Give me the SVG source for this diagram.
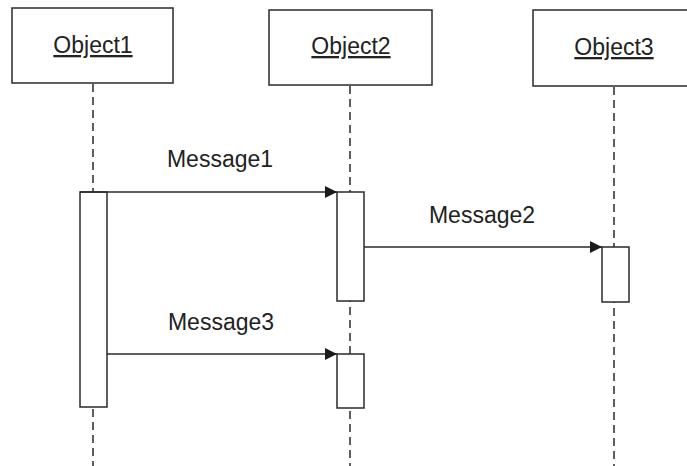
<svg xmlns="http://www.w3.org/2000/svg" width="687" height="466" viewBox="0 0 687 466">
<style>
.box{fill:#fff;stroke:#2a2a2a;stroke-width:1.5}
.life{stroke:#2a2a2a;stroke-width:1.5;stroke-dasharray:8 5;fill:none}
.act{fill:#fff;stroke:#2a2a2a;stroke-width:1.5}
.msg{stroke:#2a2a2a;stroke-width:1.5;fill:none;marker-end:url(#arr)}
.t{font-family:"Liberation Sans",Arial,sans-serif;font-size:23px;fill:#222;text-anchor:middle}
.u{text-decoration:underline}
</style>
<defs>
<marker id="arr" viewBox="0 0 12 12" refX="12" refY="6" markerWidth="12" markerHeight="12" markerUnits="userSpaceOnUse" orient="auto">
<path d="M0,0 L12,6 L0,12 z" fill="#1a1a1a"/>
</marker>
</defs>
<rect width="687" height="466" fill="#fff"/>
<g id="lifelines">
<line class="life" x1="93" y1="84" x2="93" y2="466"/>
<line class="life" x1="350" y1="86" x2="350" y2="466"/>
<line class="life" x1="614" y1="87" x2="614" y2="466"/>
</g>
<g id="object1">
<rect class="box" x="12" y="8" width="161" height="75"/>
<text class="t u" x="93" y="53">Object1</text>
</g>
<g id="object2">
<rect class="box" x="269" y="10" width="163" height="75"/>
<text class="t u" x="351" y="54">Object2</text>
</g>
<g id="object3">
<rect class="box" x="533" y="10" width="160" height="76"/>
<text class="t u" x="614" y="55">Object3</text>
</g>
<g id="activation1">
<rect class="act" x="80" y="192" width="27" height="215"/>
</g>
<g id="activation2a">
<rect class="act" x="337" y="192" width="27" height="109"/>
</g>
<g id="activation3">
<rect class="act" x="602" y="247" width="27" height="55"/>
</g>
<g id="activation2b">
<rect class="act" x="337" y="354" width="27" height="54"/>
</g>
<g id="connectors">
<line class="msg" x1="80" y1="192" x2="337" y2="192"/>
<line class="msg" x1="364" y1="247" x2="602" y2="247"/>
<line class="msg" x1="107" y1="354" x2="337" y2="354"/>
</g>
<g id="labels">
<text class="t" x="220" y="167">Message1</text>
<text class="t" x="482" y="223">Message2</text>
<text class="t" x="221" y="330">Message3</text>
</g>
</svg>
